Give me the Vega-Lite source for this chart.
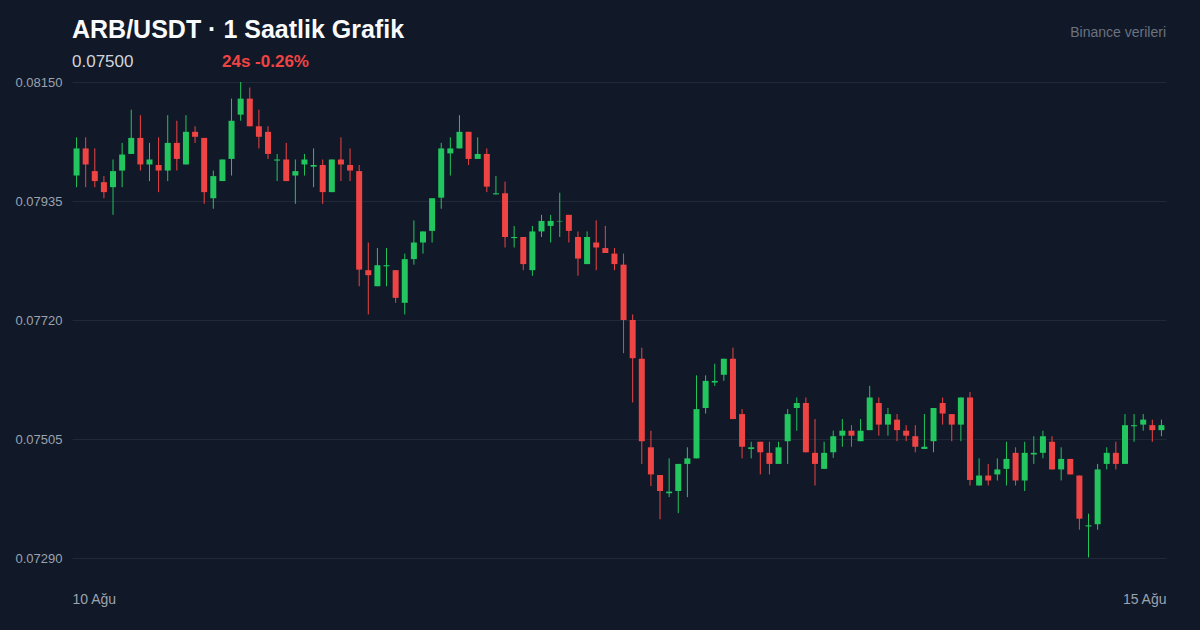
{
  "$schema": "https://vega.github.io/schema/vega-lite/v6.json",
  "width": 1094,
  "height": 476,
  "autosize": "none",
  "padding": {"left": 72, "top": 82, "right": 34, "bottom": 72},
  "background": "#111827",
  "config": {
    "view": {"stroke": null},
    "font": "Liberation Sans"
  },
  "data": {
    "values": [
      {"i":0,"o":0.07981,"h":0.08050,"l":0.07960,"c":0.08030},
      {"i":1,"o":0.08030,"h":0.08050,"l":0.07960,"c":0.08001},
      {"i":2,"o":0.07989,"h":0.08030,"l":0.07960,"c":0.07971},
      {"i":3,"o":0.07969,"h":0.07980,"l":0.07940,"c":0.07951},
      {"i":4,"o":0.07960,"h":0.08010,"l":0.07910,"c":0.07989},
      {"i":5,"o":0.07990,"h":0.08040,"l":0.07960,"c":0.08019},
      {"i":6,"o":0.08020,"h":0.08100,"l":0.08020,"c":0.08049},
      {"i":7,"o":0.08049,"h":0.08090,"l":0.07990,"c":0.08001},
      {"i":8,"o":0.08001,"h":0.08040,"l":0.07971,"c":0.08010},
      {"i":9,"o":0.08000,"h":0.08050,"l":0.07951,"c":0.07990},
      {"i":10,"o":0.07990,"h":0.08090,"l":0.07971,"c":0.08040},
      {"i":11,"o":0.08040,"h":0.08080,"l":0.07990,"c":0.08011},
      {"i":12,"o":0.08001,"h":0.08090,"l":0.08001,"c":0.08060},
      {"i":13,"o":0.08060,"h":0.08070,"l":0.08040,"c":0.08051},
      {"i":14,"o":0.08049,"h":0.08049,"l":0.07930,"c":0.07951},
      {"i":15,"o":0.07940,"h":0.07990,"l":0.07921,"c":0.07980},
      {"i":16,"o":0.07971,"h":0.08010,"l":0.07971,"c":0.08010},
      {"i":17,"o":0.08011,"h":0.08120,"l":0.07981,"c":0.08080},
      {"i":18,"o":0.08091,"h":0.08150,"l":0.08080,"c":0.08120},
      {"i":19,"o":0.08120,"h":0.08140,"l":0.08070,"c":0.08070},
      {"i":20,"o":0.08070,"h":0.08100,"l":0.08030,"c":0.08051},
      {"i":21,"o":0.08060,"h":0.08070,"l":0.08011,"c":0.08020},
      {"i":22,"o":0.08008,"h":0.08020,"l":0.07971,"c":0.08010},
      {"i":23,"o":0.08010,"h":0.08040,"l":0.07971,"c":0.07971},
      {"i":24,"o":0.07981,"h":0.08010,"l":0.07930,"c":0.07989},
      {"i":25,"o":0.08001,"h":0.08020,"l":0.07981,"c":0.08010},
      {"i":26,"o":0.07997,"h":0.08030,"l":0.07960,"c":0.08000},
      {"i":27,"o":0.08000,"h":0.08010,"l":0.07930,"c":0.07951},
      {"i":28,"o":0.07951,"h":0.08010,"l":0.07951,"c":0.08010},
      {"i":29,"o":0.08010,"h":0.08050,"l":0.07971,"c":0.08001},
      {"i":30,"o":0.08000,"h":0.08030,"l":0.07971,"c":0.07990},
      {"i":31,"o":0.07989,"h":0.08000,"l":0.07781,"c":0.07811},
      {"i":32,"o":0.07810,"h":0.07860,"l":0.07730,"c":0.07801},
      {"i":33,"o":0.07781,"h":0.07850,"l":0.07781,"c":0.07819},
      {"i":34,"o":0.07817,"h":0.07850,"l":0.07781,"c":0.07819},
      {"i":35,"o":0.07810,"h":0.07810,"l":0.07751,"c":0.07760},
      {"i":36,"o":0.07751,"h":0.07840,"l":0.07730,"c":0.07830},
      {"i":37,"o":0.07830,"h":0.07900,"l":0.07820,"c":0.07860},
      {"i":38,"o":0.07860,"h":0.07880,"l":0.07840,"c":0.07880},
      {"i":39,"o":0.07881,"h":0.07940,"l":0.07860,"c":0.07940},
      {"i":40,"o":0.07941,"h":0.08040,"l":0.07921,"c":0.08030},
      {"i":41,"o":0.08021,"h":0.08050,"l":0.07981,"c":0.08030},
      {"i":42,"o":0.08030,"h":0.08090,"l":0.08030,"c":0.08060},
      {"i":43,"o":0.08060,"h":0.08060,"l":0.08000,"c":0.08011},
      {"i":44,"o":0.08011,"h":0.08050,"l":0.08011,"c":0.08020},
      {"i":45,"o":0.08020,"h":0.08030,"l":0.07951,"c":0.07961},
      {"i":46,"o":0.07947,"h":0.07980,"l":0.07947,"c":0.07949},
      {"i":47,"o":0.07949,"h":0.07970,"l":0.07851,"c":0.07870},
      {"i":48,"o":0.07868,"h":0.07890,"l":0.07851,"c":0.07870},
      {"i":49,"o":0.07870,"h":0.07870,"l":0.07810,"c":0.07821},
      {"i":50,"o":0.07810,"h":0.07890,"l":0.07800,"c":0.07880},
      {"i":51,"o":0.07880,"h":0.07910,"l":0.07870,"c":0.07899},
      {"i":52,"o":0.07890,"h":0.07910,"l":0.07860,"c":0.07899},
      {"i":53,"o":0.07898,"h":0.07950,"l":0.07870,"c":0.07899},
      {"i":54,"o":0.07910,"h":0.07910,"l":0.07860,"c":0.07881},
      {"i":55,"o":0.07870,"h":0.07880,"l":0.07800,"c":0.07831},
      {"i":56,"o":0.07821,"h":0.07880,"l":0.07821,"c":0.07870},
      {"i":57,"o":0.07860,"h":0.07900,"l":0.07810,"c":0.07851},
      {"i":58,"o":0.07850,"h":0.07890,"l":0.07841,"c":0.07841},
      {"i":59,"o":0.07840,"h":0.07850,"l":0.07810,"c":0.07821},
      {"i":60,"o":0.07820,"h":0.07840,"l":0.07660,"c":0.07720},
      {"i":61,"o":0.07720,"h":0.07730,"l":0.07571,"c":0.07651},
      {"i":62,"o":0.07650,"h":0.07670,"l":0.07460,"c":0.07501},
      {"i":63,"o":0.07490,"h":0.07520,"l":0.07420,"c":0.07441},
      {"i":64,"o":0.07440,"h":0.07440,"l":0.07360,"c":0.07411},
      {"i":65,"o":0.07407,"h":0.07470,"l":0.07400,"c":0.07410},
      {"i":66,"o":0.07411,"h":0.07460,"l":0.07371,"c":0.07460},
      {"i":67,"o":0.07460,"h":0.07490,"l":0.07400,"c":0.07470},
      {"i":68,"o":0.07470,"h":0.07620,"l":0.07470,"c":0.07559},
      {"i":69,"o":0.07561,"h":0.07620,"l":0.07551,"c":0.07610},
      {"i":70,"o":0.07607,"h":0.07641,"l":0.07601,"c":0.07610},
      {"i":71,"o":0.07621,"h":0.07650,"l":0.07610,"c":0.07650},
      {"i":72,"o":0.07650,"h":0.07670,"l":0.07541,"c":0.07541},
      {"i":73,"o":0.07550,"h":0.07559,"l":0.07470,"c":0.07491},
      {"i":74,"o":0.07487,"h":0.07500,"l":0.07470,"c":0.07490},
      {"i":75,"o":0.07500,"h":0.07500,"l":0.07441,"c":0.07481},
      {"i":76,"o":0.07480,"h":0.07500,"l":0.07441,"c":0.07460},
      {"i":77,"o":0.07460,"h":0.07500,"l":0.07460,"c":0.07490},
      {"i":78,"o":0.07501,"h":0.07559,"l":0.07460,"c":0.07550},
      {"i":79,"o":0.07561,"h":0.07580,"l":0.07520,"c":0.07570},
      {"i":80,"o":0.07570,"h":0.07580,"l":0.07481,"c":0.07481},
      {"i":81,"o":0.07480,"h":0.07541,"l":0.07421,"c":0.07460},
      {"i":82,"o":0.07451,"h":0.07500,"l":0.07451,"c":0.07480},
      {"i":83,"o":0.07481,"h":0.07520,"l":0.07471,"c":0.07510},
      {"i":84,"o":0.07511,"h":0.07541,"l":0.07491,"c":0.07520},
      {"i":85,"o":0.07520,"h":0.07530,"l":0.07491,"c":0.07511},
      {"i":86,"o":0.07501,"h":0.07541,"l":0.07501,"c":0.07520},
      {"i":87,"o":0.07521,"h":0.07601,"l":0.07521,"c":0.07580},
      {"i":88,"o":0.07570,"h":0.07580,"l":0.07511,"c":0.07531},
      {"i":89,"o":0.07531,"h":0.07561,"l":0.07511,"c":0.07550},
      {"i":90,"o":0.07540,"h":0.07550,"l":0.07501,"c":0.07521},
      {"i":91,"o":0.07520,"h":0.07530,"l":0.07501,"c":0.07511},
      {"i":92,"o":0.07510,"h":0.07530,"l":0.07481,"c":0.07491},
      {"i":93,"o":0.07487,"h":0.07550,"l":0.07487,"c":0.07491},
      {"i":94,"o":0.07501,"h":0.07561,"l":0.07481,"c":0.07561},
      {"i":95,"o":0.07570,"h":0.07580,"l":0.07531,"c":0.07551},
      {"i":96,"o":0.07550,"h":0.07550,"l":0.07501,"c":0.07531},
      {"i":97,"o":0.07531,"h":0.07580,"l":0.07501,"c":0.07580},
      {"i":98,"o":0.07580,"h":0.07590,"l":0.07421,"c":0.07431},
      {"i":99,"o":0.07421,"h":0.07470,"l":0.07421,"c":0.07439},
      {"i":100,"o":0.07439,"h":0.07460,"l":0.07421,"c":0.07430},
      {"i":101,"o":0.07441,"h":0.07470,"l":0.07430,"c":0.07450},
      {"i":102,"o":0.07451,"h":0.07500,"l":0.07421,"c":0.07469},
      {"i":103,"o":0.07480,"h":0.07490,"l":0.07421,"c":0.07430},
      {"i":104,"o":0.07430,"h":0.07500,"l":0.07411,"c":0.07480},
      {"i":105,"o":0.07477,"h":0.07510,"l":0.07460,"c":0.07480},
      {"i":106,"o":0.07480,"h":0.07520,"l":0.07470,"c":0.07510},
      {"i":107,"o":0.07500,"h":0.07510,"l":0.07450,"c":0.07450},
      {"i":108,"o":0.07450,"h":0.07490,"l":0.07430,"c":0.07469},
      {"i":109,"o":0.07469,"h":0.07469,"l":0.07441,"c":0.07441},
      {"i":110,"o":0.07439,"h":0.07439,"l":0.07341,"c":0.07361},
      {"i":111,"o":0.07347,"h":0.07370,"l":0.07291,"c":0.07349},
      {"i":112,"o":0.07351,"h":0.07460,"l":0.07341,"c":0.07450},
      {"i":113,"o":0.07460,"h":0.07490,"l":0.07450,"c":0.07480},
      {"i":114,"o":0.07480,"h":0.07500,"l":0.07450,"c":0.07460},
      {"i":115,"o":0.07460,"h":0.07550,"l":0.07460,"c":0.07530},
      {"i":116,"o":0.07528,"h":0.07550,"l":0.07500,"c":0.07530},
      {"i":117,"o":0.07531,"h":0.07550,"l":0.07520,"c":0.07540},
      {"i":118,"o":0.07530,"h":0.07540,"l":0.07500,"c":0.07521},
      {"i":119,"o":0.07521,"h":0.07540,"l":0.07510,"c":0.07530}
    ]
  },
  "layer": [
    {
      "encoding": {
        "x": {
          "field": "i",
          "type": "quantitative",
          "scale": {"domain": [-0.5, 119.5], "nice": false, "zero": false, "padding": 0},
          "axis": {
            "values": [-0.5, 119.5],
            "labelExpr": "datum.value < 0 ? '10 Ağu' : '15 Ağu'",
            "labelFlush": true,
            "grid": false,
            "domain": false,
            "ticks": false,
            "title": null,
            "labelFont": "Liberation Sans",
            "labelFontSize": 14,
            "labelColor": "#9ca3af",
            "labelPadding": 34
          }
        },
        "color": {
          "condition": {"test": "datum.c >= datum.o", "value": "#22c55e"},
          "value": "#ef4444"
        }
      },
      "layer": [
        {
          "mark": {"type": "rule", "strokeWidth": 1},
          "encoding": {
            "y": {
              "field": "l",
              "type": "quantitative",
              "scale": {"domain": [0.0729, 0.0815], "nice": false, "zero": false},
              "axis": {
                "values": [0.0729, 0.07505, 0.0772, 0.07935, 0.0815],
                "format": ".5f",
                "grid": true,
                "gridColor": "#1f2937",
                "gridWidth": 1,
                "domain": false,
                "ticks": false,
                "title": null,
                "labelFont": "Liberation Sans",
                "labelFontSize": 13,
                "labelColor": "#9ca3af",
                "labelPadding": 10
              }
            },
            "y2": {"field": "h"}
          }
        },
        {
          "mark": {"type": "bar", "width": 6},
          "encoding": {
            "y": {"field": "o", "type": "quantitative"},
            "y2": {"field": "c"}
          }
        }
      ]
    },
    {
      "data": {"values": [{}]},
      "mark": {"type": "text", "text": "ARB/USDT · 1 Saatlik Grafik", "x": 0, "y": -43.7, "align": "left", "baseline": "alphabetic", "font": "Liberation Sans", "fontSize": 25, "fontWeight": "bold", "color": "#f9fafb"},
      "encoding": {}
    },
    {
      "data": {"values": [{}]},
      "mark": {"type": "text", "text": "0.07500", "x": 0, "y": -15.3, "align": "left", "baseline": "alphabetic", "font": "Liberation Sans", "fontSize": 17, "color": "#d1d5db"},
      "encoding": {}
    },
    {
      "data": {"values": [{}]},
      "mark": {"type": "text", "text": "24s -0.26%", "x": 150, "y": -15.3, "align": "left", "baseline": "alphabetic", "font": "Liberation Sans", "fontSize": 17, "fontWeight": "bold", "color": "#ef4444"},
      "encoding": {}
    },
    {
      "data": {"values": [{}]},
      "mark": {"type": "text", "text": "Binance verileri", "x": 1094, "y": -49, "align": "right", "baseline": "middle", "font": "Liberation Sans", "fontSize": 14, "color": "#6b7280"},
      "encoding": {}
    }
  ]
}
